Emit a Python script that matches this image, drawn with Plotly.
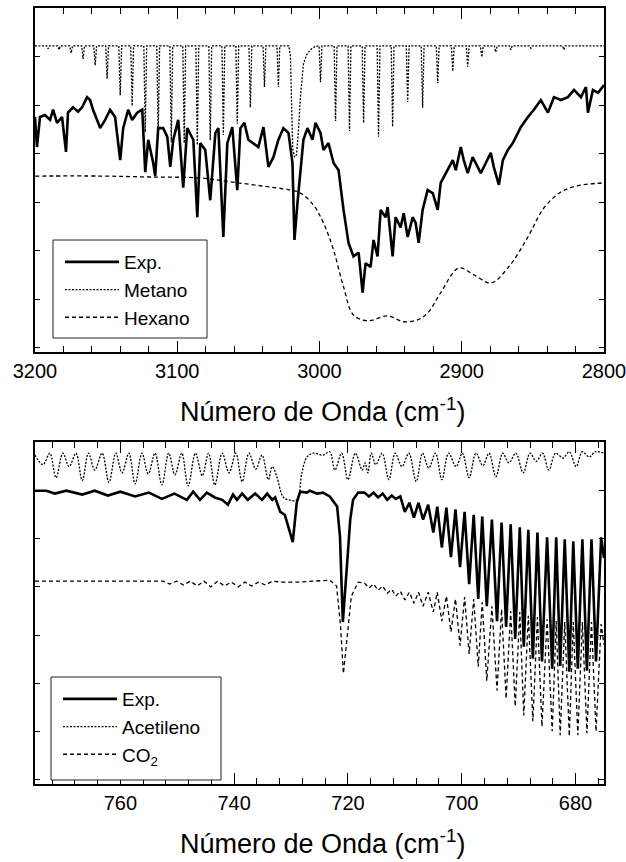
import plotly.graph_objects as go

# ---------------- painel superior: 3200-2800 cm-1 ----------------
exp1_wn = [3200.0, 3198.6, 3196.5, 3193.0, 3189.4, 3187.3, 3184.5, 3181.0, 3178.2, 3176.8,
           3173.2, 3169.7, 3166.9, 3163.4, 3161.3, 3159.2, 3155.6, 3154.2, 3150.7, 3147.2,
           3143.7, 3140.1, 3138.0, 3134.5, 3131.7, 3128.2, 3124.6, 3122.5, 3120.4, 3116.9,
           3115.5, 3113.4, 3109.9, 3107.0, 3104.9, 3102.8, 3099.3, 3095.8, 3093.0, 3088.7,
           3085.9, 3083.8, 3080.3, 3076.8, 3073.2, 3071.1, 3067.6, 3064.8, 3061.3, 3057.8,
           3055.6, 3052.8, 3050.0, 3046.5, 3043.0, 3039.4, 3035.9, 3032.4, 3028.9, 3025.4,
           3021.8, 3019.0, 3017.6, 3015.5, 3013.4, 3011.3, 3008.5, 3004.9, 3002.8, 2999.3,
           2997.2, 2993.7, 2990.1, 2986.6, 2983.1, 2979.6, 2976.1, 2972.5, 2969.7, 2967.6,
           2964.1, 2962.0, 2959.2, 2957.0, 2953.5, 2952.1, 2948.6, 2946.5, 2943.0, 2940.8,
           2938.0, 2934.5, 2932.4, 2930.3, 2927.5, 2924.0, 2920.4, 2916.9, 2914.8, 2909.9,
           2906.3, 2904.2, 2900.7, 2898.6, 2895.8, 2892.3, 2888.7, 2886.6, 2883.1, 2879.6,
           2877.5, 2873.9, 2871.1, 2867.6, 2864.1, 2858.5, 2853.5, 2849.3, 2844.4, 2839.4,
           2835.2, 2830.3, 2825.4, 2821.1, 2816.2, 2812.7, 2811.3, 2807.8, 2804.2, 2800.7,
           2800.0]
exp1_t = [47.6, 41.4, 47.6, 48.0, 47.0, 49.1, 46.4, 47.6, 40.4, 48.5,
          49.6, 48.7, 49.6, 51.7, 51.1, 49.1, 46.4, 45.3, 47.0, 49.1,
          47.6, 38.7, 45.3, 49.1, 47.0, 48.5, 49.1, 36.2, 42.9, 38.1,
          35.4, 45.3, 45.3, 43.5, 37.3, 42.9, 47.0, 33.0, 45.3, 42.9,
          26.9, 42.2, 40.8, 30.4, 44.3, 45.3, 22.8, 42.2, 45.5, 32.5,
          45.3, 46.4, 42.9, 42.2, 41.4, 45.5, 37.3, 39.3, 42.9, 45.3,
          44.3, 38.1, 22.2, 29.8, 36.6, 42.9, 45.3, 42.9, 46.4, 44.3,
          40.8, 42.2, 38.1, 36.6, 28.4, 21.6, 18.8, 19.6, 11.3, 17.4,
          16.6, 22.2, 18.8, 28.4, 26.9, 29.0, 18.8, 26.9, 24.8, 27.7,
          22.8, 26.9, 25.7, 21.6, 28.4, 32.5, 31.9, 28.4, 34.0, 36.6,
          38.7, 36.6, 41.4, 38.7, 36.0, 39.3, 37.3, 36.0, 38.1, 40.2,
          37.3, 33.6, 38.7, 40.8, 42.2, 45.5, 47.6, 49.1, 51.1, 48.5,
          51.7, 51.1, 51.7, 53.2, 51.7, 53.8, 48.5, 53.2, 52.6, 53.8,
          54.2]

# metano: linhas estreitas (centro e minimo) sobre a linha de base, mais o ramo Q
metano_base = 62.3
metano_linhas = [3190.8, 3183.1, 3174.6, 3166.2, 3157.7, 3149.3, 3140.1, 3131.7, 3122.5, 3113.4,
                 3104.2, 3095.1, 3085.9, 3076.8, 3067.6, 3057.8, 3048.6, 3038.7, 3028.9,
                 2999.3, 2988.7, 2978.9, 2969.0, 2958.5, 2948.6, 2938.0, 2927.5, 2916.9, 2906.3,
                 2895.8, 2885.9, 2876.1, 2865.5, 2851.4, 2828.2]
metano_min = [61.7, 61.5, 60.8, 59.6, 58.3, 55.5, 52.1, 49.9, 44.5, 43.9,
              42.4, 42.2, 41.8, 42.8, 43.9, 46.2, 49.6, 53.8, 53.8,
              54.8, 46.8, 44.7, 46.4, 43.5, 45.6, 50.7, 49.5, 54.6, 57.1,
              58.0, 60.0, 61.0, 61.5, 61.8, 61.5]
metano_q_wn = [3021.5, 3020.4, 3019.6, 3018.8, 3017.5, 3016.2, 3015.0, 3013.4, 3011.3, 3009.2, 3006.4, 3003.5]
metano_q_t = [62.3, 60.0, 50.0, 41.0, 39.3, 39.8, 44.0, 51.7, 58.5, 60.4, 61.5, 62.1]

hexano_wn = [3200.0, 3154.2, 3119.0, 3083.8, 3062.7, 3041.5, 3020.4, 3013.4, 3004.2, 2997.2,
             2990.1, 2983.1, 2976.1, 2966.2, 2952.1, 2940.8, 2931.0, 2924.0, 2914.8, 2902.1,
             2891.5, 2879.6, 2867.6, 2853.5, 2842.3, 2830.3, 2818.3, 2800.0]
hexano_t = [35.4, 35.4, 35.2, 35.0, 34.2, 33.4, 32.5, 31.9, 29.4, 25.7,
            20.1, 12.5, 6.7, 5.5, 6.5, 5.3, 5.7, 7.1, 11.3, 16.4,
            15.0, 13.3, 16.4, 22.8, 28.8, 32.1, 33.4, 34.0]

# ---------------- painel inferior: 775-675 cm-1 ----------------
exp2_wn = [775.0, 773.0, 771.5, 769.5, 766.7, 764.5, 762.2, 760.0, 757.4, 755.0,
           752.7, 750.5, 748.3, 747.2, 746.0, 744.8, 743.4, 742.1, 741.1, 740.2,
           739.5, 738.6, 737.6, 736.3, 735.1, 734.2, 733.3, 732.8, 731.9, 731.1,
           730.5, 729.7, 729.0, 728.4, 727.2, 726.7, 725.4, 724.4, 723.2, 721.9,
           721.4, 720.9, 720.2, 719.6, 719.1, 718.2, 717.1, 716.3, 715.5, 714.7,
           713.9, 713.1, 712.3, 711.6, 710.8, 710.0, 709.2, 708.4, 707.6, 706.8,
           705.9, 705.0, 704.3, 703.5, 702.7, 701.9, 701.1, 700.3, 699.5, 698.7,
           697.9, 697.1, 696.4, 695.6, 694.7, 693.8, 693.0, 692.2, 691.4, 690.6,
           689.8, 689.1, 688.3, 687.5, 686.7, 685.9, 685.0, 684.1, 683.4, 682.7,
           681.9, 681.1, 680.4, 679.6, 678.8, 678.0, 677.2, 676.4, 675.5, 675.0]
exp2_t = [60.0, 60.0, 59.4, 60.0, 59.2, 60.0, 59.0, 59.8, 58.8, 59.6,
          58.3, 59.4, 58.1, 59.8, 58.1, 59.6, 58.6, 58.1, 57.1, 59.2,
          58.1, 59.4, 58.1, 59.4, 58.1, 59.4, 58.1, 58.6, 55.6, 55.0,
          52.6, 49.3, 57.5, 59.8, 59.6, 60.0, 59.4, 59.6, 58.8, 56.7,
          50.5, 32.7, 44.0, 54.0, 58.1, 59.6, 59.6, 58.8, 59.6, 58.6,
          59.4, 58.1, 59.0, 58.3, 58.8, 55.6, 57.5, 54.4, 57.5, 54.0,
          57.1, 51.3, 56.7, 48.2, 56.5, 46.2, 56.1, 44.1, 55.6, 40.6,
          55.0, 37.5, 54.6, 36.0, 54.0, 32.9, 53.4, 31.7, 53.0, 29.2,
          52.4, 27.6, 51.9, 25.1, 51.3, 24.5, 50.3, 23.0, 50.3, 23.6,
          49.9, 22.4, 49.5, 23.0, 49.9, 22.6, 49.9, 24.5, 50.3, 46.0]

acet_wn = [775.0, 773.6, 772.4, 771.3, 770.1, 769.0, 767.8, 766.7, 765.6, 764.5,
           763.2, 762.0, 760.8, 759.7, 758.5, 757.4, 756.2, 755.1, 753.9, 752.7,
           751.5, 750.4, 749.2, 748.1, 746.8, 745.6, 744.5, 743.4, 742.1, 740.9,
           739.7, 738.6, 737.4, 736.2, 735.1, 734.0, 733.3, 732.5, 731.4, 730.5,
           729.0, 728.1, 727.2, 726.1, 724.4, 723.2, 722.3, 721.1, 720.0, 718.7,
           717.5, 717.0, 716.5, 715.9, 715.1, 714.0, 712.8, 711.7, 710.5, 709.3,
           708.0, 706.9, 705.8, 704.6, 703.5, 702.3, 701.0, 699.9, 698.7, 697.5,
           696.3, 695.2, 694.0, 692.8, 691.7, 690.5, 689.2, 688.0, 686.9, 685.8,
           684.7, 683.5, 682.2, 681.1, 679.9, 678.8, 677.6, 676.5, 675.0]
acet_t = [67.4, 65.4, 67.8, 62.7, 67.8, 65.0, 67.8, 62.1, 67.8, 64.3,
          67.8, 61.7, 67.8, 63.7, 67.8, 61.4, 67.8, 63.5, 67.8, 61.2,
          67.8, 63.3, 67.8, 61.0, 67.8, 63.1, 67.8, 61.2, 67.8, 63.7,
          67.8, 61.9, 67.8, 64.5, 67.4, 62.3, 65.0, 62.9, 58.7, 58.1,
          58.1, 63.7, 67.0, 67.8, 67.4, 68.1, 64.3, 67.8, 62.3, 67.8,
          64.3, 65.8, 63.7, 67.8, 65.4, 67.8, 62.3, 67.8, 65.0, 67.8,
          61.9, 67.8, 64.7, 67.8, 62.3, 67.8, 65.0, 67.8, 62.7, 67.8,
          65.2, 67.8, 62.9, 67.8, 65.8, 67.8, 63.7, 67.8, 66.1, 67.8,
          64.3, 67.8, 66.8, 68.1, 65.0, 68.1, 67.0, 68.1, 67.8]

co2_wn = [775.0, 752.5, 751.3, 750.1, 748.9, 747.7, 746.5, 745.3, 744.1, 742.9,
          741.7, 740.5, 739.3, 738.1, 736.9, 735.7, 734.5, 733.3, 731.5, 728.4,
          726.1, 723.2, 722.0, 721.3, 720.8, 720.2, 719.4, 718.2, 717.1, 716.3,
          715.5, 714.7, 713.9, 713.1, 712.3, 711.6, 710.8, 710.0, 709.2, 708.4,
          707.6, 706.8, 705.9, 705.0, 704.3, 703.5, 702.7, 701.9, 701.1, 700.3,
          699.5, 698.7, 697.9, 697.1, 696.4, 695.6, 694.7, 693.8, 693.0, 692.2,
          691.4, 690.6, 689.8, 689.1, 688.3, 687.5, 686.7, 685.9, 685.0, 684.1,
          683.4, 682.7, 681.9, 681.1, 680.4, 679.6, 678.8, 678.0, 677.2, 676.4,
          675.5, 675.0]
co2_t = [41.2, 41.2, 40.6, 41.2, 40.4, 41.2, 40.2, 41.2, 40.0, 41.2,
         40.2, 41.0, 40.0, 41.0, 40.2, 41.0, 40.4, 41.2, 41.0, 41.0,
         41.2, 41.4, 40.2, 31.9, 22.0, 28.6, 38.1, 41.0, 40.8, 39.8,
         40.6, 39.3, 40.2, 38.7, 39.5, 38.1, 39.1, 37.3, 38.9, 36.6,
         38.9, 36.0, 38.9, 34.8, 38.9, 32.9, 38.1, 30.7, 37.5, 27.8,
         37.9, 26.1, 37.5, 23.4, 36.8, 20.5, 36.0, 18.5, 35.4, 16.8,
         35.0, 15.2, 34.8, 13.3, 34.0, 12.1, 33.7, 11.0, 33.3, 10.0,
         32.9, 9.2, 32.7, 9.0, 32.7, 9.2, 32.7, 9.6, 32.7, 10.0,
         32.3, 28.0]

# monta o traço do metano (cada linha = base / minimo / base)
pts = [(3200.0, metano_base), (2800.0, metano_base)]
for c, m in zip(metano_linhas, metano_min):
    pts += [(c + 1.0, metano_base), (c, m), (c - 1.0, metano_base)]
pts += list(zip(metano_q_wn, metano_q_t))
pts.sort(key=lambda p: -p[0])
metano_wn = [p[0] for p in pts]
metano_t = [p[1] for p in pts]

FONT = "Liberation Sans, Arial, sans-serif"

fig = go.Figure()
fig.add_trace(go.Scatter(x=exp1_wn, y=exp1_t, mode="lines", name="Exp.",
                         line=dict(color="black", width=2.6), xaxis="x", yaxis="y", legend="legend"))
fig.add_trace(go.Scatter(x=metano_wn, y=metano_t, mode="lines", name="Metano",
                         line=dict(color="black", width=1.3, dash="2px,1.5px"), xaxis="x", yaxis="y", legend="legend"))
fig.add_trace(go.Scatter(x=hexano_wn, y=hexano_t, mode="lines", name="Hexano", line_shape="spline",
                         line=dict(color="black", width=1.3, dash="4px,3px"), xaxis="x", yaxis="y", legend="legend"))

fig.add_trace(go.Scatter(x=exp2_wn, y=exp2_t, mode="lines", name="Exp.",
                         line=dict(color="black", width=2.6), xaxis="x2", yaxis="y2", legend="legend2"))
fig.add_trace(go.Scatter(x=acet_wn, y=acet_t, mode="lines", name="Acetileno", line_shape="spline",
                         line=dict(color="black", width=1.3, dash="2px,1.5px"), xaxis="x2", yaxis="y2", legend="legend2"))
fig.add_trace(go.Scatter(x=co2_wn, y=co2_t, mode="lines", name="CO<sub>2</sub>",
                         line=dict(color="black", width=1.3, dash="4px,3px"), xaxis="x2", yaxis="y2", legend="legend2"))

W, H = 626, 862
eixo = dict(showline=True, linecolor="black", linewidth=1.5, mirror="ticks", ticks="inside",
            tickcolor="black", showgrid=False, zeroline=False, automargin=False)
eixo_x = dict(eixo, ticklen=11, tickwidth=1.3, tickfont=dict(size=20, color="black", family=FONT),
              ticklabeloverflow="allow", domain=[35 / W, 604 / W])
eixo_y = dict(eixo, ticklen=5, tickwidth=1.3, showticklabels=False,
              tickvals=[0, 10, 20, 30, 40, 50, 60], range=[-0.95, 70.12])

legenda = dict(xanchor="left", yanchor="top", borderwidth=0, bgcolor="rgba(0,0,0,0)",
               font=dict(size=19, color="black", family=FONT), itemwidth=54, tracegroupgap=0)


def caixa(x0, y0, x1, y1):
    # moldura branca da legenda, em pixels da figura
    return dict(type="rect", xref="paper", yref="paper", layer="above",
                x0=x0 / W, x1=x1 / W, y0=1 - y1 / H, y1=1 - y0 / H,
                fillcolor="white", line=dict(color="#222", width=1))


fig.update_layout(
    width=W, height=H, margin=dict(l=0, r=0, t=0, b=0, autoexpand=False),
    paper_bgcolor="white", plot_bgcolor="white",
    font=dict(family=FONT, color="black"),
    xaxis=dict(eixo_x, range=[3200, 2800], dtick=100, anchor="y",
               minor=dict(dtick=20, ticks="inside", ticklen=6, tickcolor="black", tickwidth=1.3)),
    yaxis=dict(eixo_y, domain=[1 - 352 / H, 1 - 8 / H], anchor="x"),
    xaxis2=dict(eixo_x, range=[775, 675], dtick=20, anchor="y2",
                minor=dict(dtick=4, ticks="inside", ticklen=6, tickcolor="black", tickwidth=1.3)),
    yaxis2=dict(eixo_y, domain=[1 - 784 / H, 1 - 442 / H], anchor="x2"),
    legend=dict(legenda, x=60 / W, y=1 - 243 / H),
    legend2=dict(legenda, x=58 / W, y=1 - 680 / H),
    shapes=[caixa(53, 240, 207, 338), caixa(51, 677, 221, 780)],
    annotations=[
        dict(text="Número de Onda (cm<sup>-1</sup>)", x=0.515, y=1 - 410 / H, xref="paper", yref="paper",
             showarrow=False, font=dict(size=27, family=FONT, color="black"), yanchor="middle"),
        dict(text="Número de Onda (cm<sup>-1</sup>)", x=0.515, y=1 - 842 / H, xref="paper", yref="paper",
             showarrow=False, font=dict(size=27, family=FONT, color="black"), yanchor="middle"),
    ],
)

fig.write_html("out.html", config={"displayModeBar": False},
               post_script="document.body.style.margin='0';")
